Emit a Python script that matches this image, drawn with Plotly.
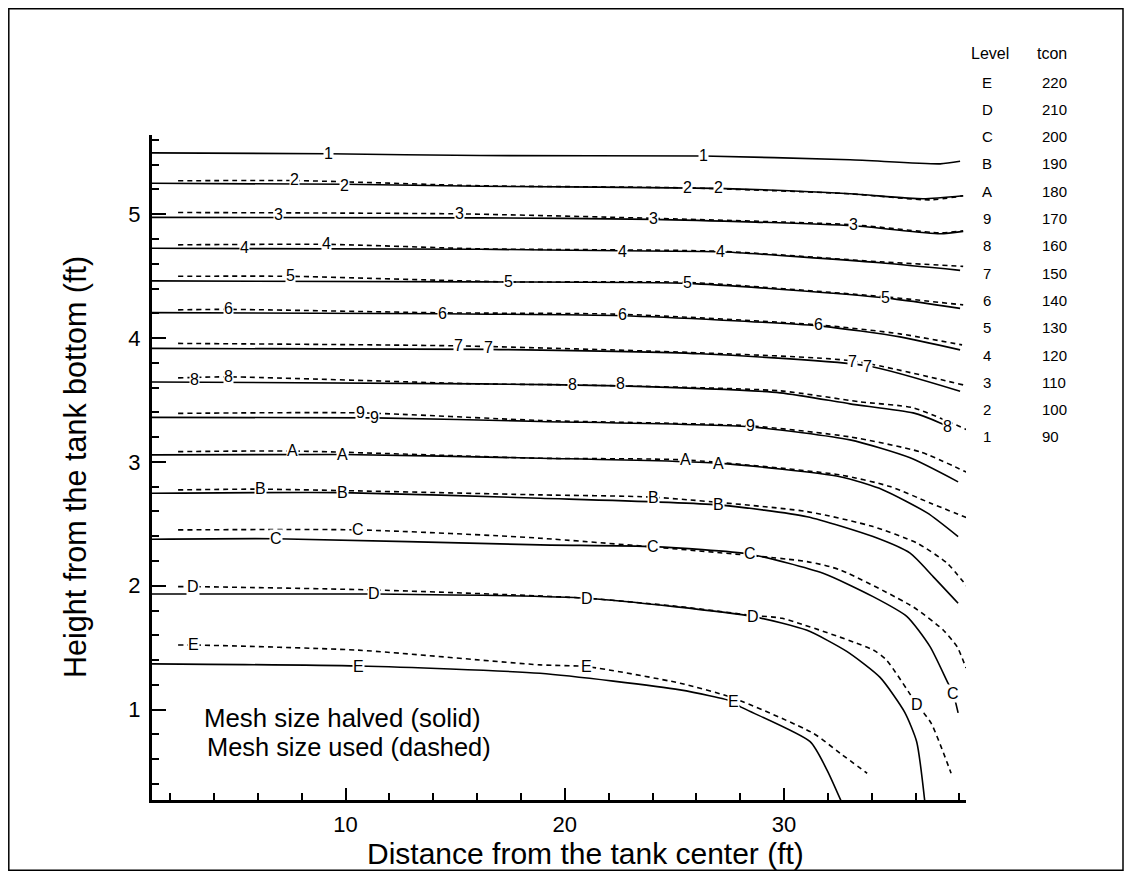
import plotly.graph_objects as go

FONT = "Liberation Sans, Arial, Helvetica, sans-serif"

# ---------------- contour data (x: ft from center, y: ft from bottom) -------------
# level 1 (solid only)
x1s = [1.17, 9.20, 16.13, 26.31, 33.01, 37.12, 38.03]
y1s = [5.496, 5.488, 5.474, 5.470, 5.440, 5.407, 5.428]
# level 2
x2s = [1.17, 9.97, 16.13, 26.99, 33.01, 36.34, 38.17]
y2s = [5.250, 5.242, 5.226, 5.209, 5.165, 5.125, 5.149]
x2d = [2.36, 7.69, 16.13, 25.58, 33.01, 36.66, 38.17]
y2d = [5.270, 5.272, 5.230, 5.213, 5.165, 5.116, 5.149]
# level 3
x3s = [1.17, 16.13, 24.03, 33.15, 37.12, 38.17]
y3s = [4.975, 4.971, 4.959, 4.907, 4.842, 4.862]
x3d = [2.36, 15.18, 24.03, 33.15, 37.12, 38.17]
y3d = [5.014, 5.003, 4.967, 4.915, 4.850, 4.866]
# level 4
x4s = [1.17, 16.13, 22.61, 27.08, 34.38, 38.03]
y4s = [4.725, 4.717, 4.705, 4.697, 4.608, 4.547]
x4d = [2.36, 9.15, 16.13, 27.08, 34.38, 38.17]
y4d = [4.753, 4.757, 4.721, 4.701, 4.616, 4.579]
# level 5
x5s = [1.17, 16.13, 25.58, 34.61, 38.03]
y5s = [4.462, 4.454, 4.442, 4.325, 4.240]
x5d = [2.36, 7.47, 17.41, 25.58, 34.61, 38.17]
y5d = [4.499, 4.499, 4.454, 4.450, 4.333, 4.268]
# level 6
x6s = [1.17, 14.40, 22.61, 31.55, 35.29, 38.03]
y6s = [4.206, 4.196, 4.180, 4.099, 4.010, 3.905]
x6d = [2.36, 4.64, 14.40, 22.61, 31.55, 35.29, 38.12]
y6d = [4.228, 4.232, 4.204, 4.192, 4.107, 4.034, 3.945]
# level 7
x7s = [1.17, 16.50, 26.17, 33.79, 38.03]
y7s = [3.917, 3.909, 3.873, 3.776, 3.570]
x7d = [2.36, 15.13, 26.17, 33.10, 38.17]
y7d = [3.957, 3.937, 3.881, 3.816, 3.622]
# level 8
x8s = [1.17, 16.13, 22.52, 29.82, 33.01, 35.89, 37.12, 37.48]
y8s = [3.646, 3.630, 3.614, 3.558, 3.469, 3.396, 3.315, 3.283]
x8d = [2.36, 4.64, 16.13, 20.33, 29.82, 33.46, 35.89, 38.35]
y8d = [3.679, 3.687, 3.630, 3.622, 3.574, 3.485, 3.437, 3.259]
# level 9
x9s = [1.17, 11.34, 18.87, 28.45, 33.01, 35.75, 37.94]
y9s = [3.360, 3.356, 3.327, 3.283, 3.178, 3.033, 2.839]
x9d = [2.36, 10.66, 18.87, 28.45, 33.01, 36.21, 38.40]
y9d = [3.392, 3.396, 3.335, 3.291, 3.202, 3.081, 2.911]
# level A
xAs = [1.17, 9.88, 18.87, 26.99, 32.56, 34.52, 36.53, 37.94]
yAs = [3.057, 3.060, 3.030, 2.990, 2.881, 2.774, 2.588, 2.397]
xAd = [2.36, 7.60, 18.87, 25.49, 32.56, 34.84, 36.66, 38.35]
yAd = [3.083, 3.088, 3.030, 3.016, 2.895, 2.801, 2.669, 2.548]
# level B
xBs = [1.17, 9.84, 18.87, 26.99, 31.05, 34.06, 35.75, 36.80, 37.94]
yBs = [2.747, 2.752, 2.707, 2.653, 2.558, 2.397, 2.263, 2.074, 1.859]
xBd = [2.36, 6.10, 18.87, 24.03, 31.05, 34.06, 36.07, 37.44, 38.35]
yBd = [2.774, 2.780, 2.734, 2.715, 2.599, 2.478, 2.344, 2.182, 1.993]
# level C
xCs = [1.17, 6.83, 18.87, 24.03, 28.45, 31.78, 34.06, 35.61, 36.66, 37.48, 37.71, 37.94]
yCs = [2.376, 2.380, 2.330, 2.316, 2.255, 2.101, 1.912, 1.751, 1.508, 1.213, 1.134, 0.973]
xCd = [2.36, 10.57, 18.87, 31.05, 32.56, 35.89, 37.26, 37.90, 38.30]
yCd = [2.451, 2.451, 2.384, 2.195, 2.128, 1.829, 1.643, 1.506, 1.336]
# level D
xDs = [1.17, 11.30, 21.01, 28.59, 31.05, 32.86, 34.38, 35.50, 36.05, 36.43]
yDs = [1.934, 1.934, 1.899, 1.751, 1.640, 1.470, 1.260, 0.980, 0.741, 0.243]
xDd = [2.36, 3.04, 11.30, 21.01, 25.26, 28.59, 29.91, 34.06, 34.67, 36.07, 36.71, 37.62]
yDd = [1.993, 1.993, 1.966, 1.899, 1.831, 1.760, 1.737, 1.482, 1.401, 1.040, 0.890, 0.486]
# level E
xEs = [1.17, 10.57, 18.87, 25.26, 27.68, 28.00, 31.19, 31.96, 32.65]
yEs = [1.369, 1.352, 1.293, 1.159, 1.064, 1.024, 0.741, 0.512, 0.243]
xEd = [2.36, 3.04, 10.57, 18.87, 21.01, 25.26, 27.68, 31.33, 32.56, 33.79]
yEd = [1.522, 1.522, 1.480, 1.361, 1.347, 1.213, 1.094, 0.809, 0.647, 0.486]

# inline contour labels
lab_text = (["1"] * 2 + ["2"] * 4 + ["3"] * 4 + ["4"] * 4 + ["5"] * 4 + ["6"] * 4 +
            ["7"] * 4 + ["8"] * 5 + ["9"] * 3 + ["A"] * 4 + ["B"] * 4 + ["C"] * 5 +
            ["D"] * 5 + ["E"] * 4)
lab_x = [9.20, 26.31,
         7.69, 9.97, 25.58, 26.99,
         6.96, 15.18, 24.03, 33.15,
         5.41, 9.15, 22.61, 27.08,
         7.47, 17.41, 25.58, 34.61,
         4.64, 14.40, 22.61, 31.55,
         15.13, 16.50, 33.10, 33.79,
         3.09, 4.64, 20.33, 22.52, 37.44,
         10.66, 11.34, 28.45,
         7.60, 9.88, 25.49, 26.99,
         6.10, 9.84, 24.03, 26.99,
         6.83, 10.57, 24.03, 28.45, 37.71,
         3.04, 11.30, 21.01, 28.59, 36.07,
         3.04, 10.57, 21.01, 27.68]
lab_y = [5.488, 5.472,
         5.278, 5.230, 5.215, 5.213,
         4.995, 5.003, 4.963, 4.915,
         4.729, 4.761, 4.699, 4.699,
         4.503, 4.454, 4.449, 4.327,
         4.236, 4.201, 4.193, 4.107,
         3.937, 3.921, 3.810, 3.770,
         3.663, 3.689, 3.622, 3.636, 3.283,
         3.398, 3.361, 3.291,
         3.091, 3.062, 3.016, 2.990,
         2.782, 2.752, 2.715, 2.653,
         2.384, 2.451, 2.316, 2.263, 1.134,
         1.993, 1.934, 1.899, 1.751, 1.040,
         1.522, 1.352, 1.347, 1.064]

# level table
table_levels = ["E", "D", "C", "B", "A", "9", "8", "7", "6", "5", "4", "3", "2", "1"]
table_tcon = [220, 210, 200, 190, 180, 170, 160, 150, 140, 130, 120, 110, 100, 90]

x_ticks = [10, 20, 30]
y_ticks = [1, 2, 3, 4, 5]

solid_curves = [(x1s, y1s), (x2s, y2s), (x3s, y3s), (x4s, y4s), (x5s, y5s), (x6s, y6s),
                (x7s, y7s), (x8s, y8s), (x9s, y9s), (xAs, yAs), (xBs, yBs), (xCs, yCs),
                (xDs, yDs), (xEs, yEs)]
dashed_curves = [(x2d, y2d), (x3d, y3d), (x4d, y4d), (x5d, y5d), (x6d, y6d), (x7d, y7d),
                 (x8d, y8d), (x9d, y9d), (xAd, yAd), (xBd, yBd), (xCd, yCd), (xDd, yDd),
                 (xEd, yEd)]

# ---------------- layout geometry (page pixels) ----------------
OFF = 8                      # default body margin of the html page
W, H = 1132 - 2 * OFF, 879 - 2 * OFF
L, R, T, B = 152, 966, 135, 800   # plot area in page pixels


def px(xp):
    return (xp - L) / (R - L)


def py(yp):
    return (B - yp) / (B - T)


def note(xp, yp, text, size, xanchor="center", angle=0):
    return dict(x=px(xp), y=py(yp), xref="paper", yref="paper", text=text,
                showarrow=False, xanchor=xanchor, yanchor="middle", textangle=angle,
                font=dict(family=FONT, size=size, color="black"))


fig = go.Figure()
for xs, ys in solid_curves:
    fig.add_trace(go.Scatter(x=xs, y=ys, mode="lines", showlegend=False,
                             line=dict(color="black", width=1.6, shape="spline", smoothing=0.6),
                             hoverinfo="skip"))
for xs, ys in dashed_curves:
    fig.add_trace(go.Scatter(x=xs, y=ys, mode="lines", showlegend=False,
                             line=dict(color="black", width=1.6, dash="5px,4px",
                                       shape="spline", smoothing=0.6),
                             hoverinfo="skip"))

ann = []
for t, x, y in zip(lab_text, lab_x, lab_y):
    ann.append(dict(x=x, y=y, xref="x", yref="y", text=t, showarrow=False,
                    xanchor="center", yanchor="middle",
                    font=dict(family=FONT, size=16, color="black"),
                    bgcolor="white", borderpad=0))

# level table
ann.append(note(990, 53, "Level", 16))
ann.append(note(1052, 53, "tcon", 16))
for i, (lv, tc) in enumerate(zip(table_levels, table_tcon)):
    yy = 82 + 27.3 * i
    ann.append(note(987, yy, lv, 15))
    ann.append(note(1040, yy, str(tc), 15, xanchor="left"))

# notes
ann.append(note(202, 718, "Mesh size halved (solid)", 25.8, xanchor="left"))
ann.append(note(205, 747, "Mesh size used (dashed)", 25.4, xanchor="left"))

# axis titles
ann.append(note(585, 853, "Distance from the tank center (ft)", 30))
ann.append(note(76, 467, "Height from the tank bottom (ft)", 30.5, angle=-90))

fig.update_layout(
    width=W, height=H,
    margin=dict(l=L - OFF, r=W - (R - OFF), t=T - OFF, b=H - (B - OFF), pad=0),
    paper_bgcolor="white", plot_bgcolor="white",
    font=dict(family=FONT, color="black"),
    annotations=ann,
    shapes=[dict(type="rect", xref="paper", yref="paper",
                 x0=px(8.8), x1=px(1123), y0=py(870.2), y1=py(8.8),
                 line=dict(color="black", width=1.5), layer="below")],
    xaxis=dict(range=[1.17, 38.3], showgrid=False, zeroline=False,
               showline=True, linecolor="black", linewidth=3,
               tickmode="array", tickvals=x_ticks, ticktext=[str(v) for v in x_ticks],
               ticks="inside", ticklen=12, tickwidth=1.5, tickcolor="black",
               ticklabelstandoff=3,
               tickfont=dict(family=FONT, size=22, color="black"),
               minor=dict(tickmode="linear", tick0=0, dtick=2, ticks="inside",
                          ticklen=7, tickwidth=1.5, tickcolor="black", showgrid=False)),
    yaxis=dict(range=[0.27, 5.64], showgrid=False, zeroline=False,
               showline=True, linecolor="black", linewidth=3,
               tickmode="array", tickvals=y_ticks, ticktext=[str(v) for v in y_ticks],
               ticks="inside", ticklen=14, tickwidth=1.5, tickcolor="black",
               ticklabelstandoff=4,
               tickfont=dict(family=FONT, size=22, color="black"),
               minor=dict(tickmode="linear", tick0=0, dtick=0.2, ticks="inside",
                          ticklen=7, tickwidth=1.5, tickcolor="black", showgrid=False)),
)

fig.write_html("out.html")
